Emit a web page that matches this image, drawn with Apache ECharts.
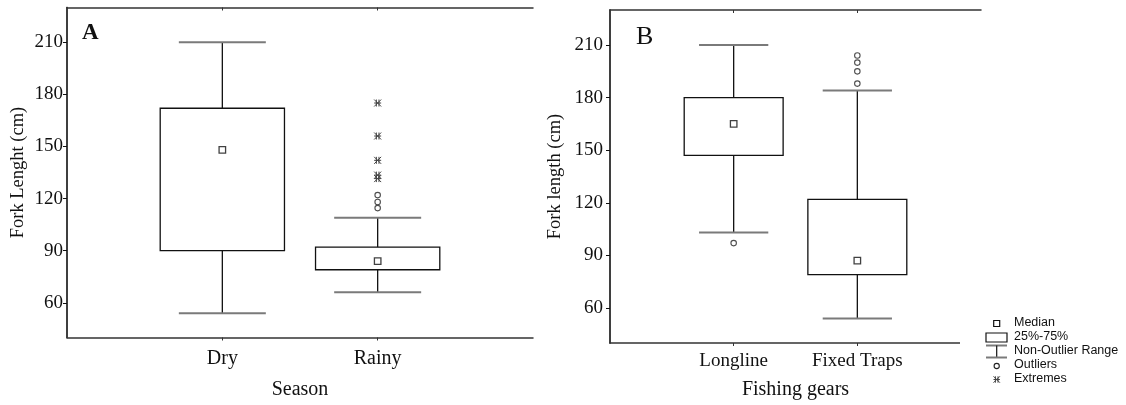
<!DOCTYPE html>
<html>
<head>
<meta charset="utf-8">
<script src="https://cdn.jsdelivr.net/npm/echarts@6/dist/echarts.min.js"></script>
<style>html,body{margin:0;padding:0;background:#fff;}#c{width:1126px;height:405px;}</style>
</head>
<body>
<div id="c"></div>
<script>
// ---- data ----
const seasonCats = ['Dry', 'Rainy'];
// [min whisker, q1, median, q3, max whisker]
const seasonBox = [[54, 90, 148, 172, 210], [66, 79, 84, 92, 109]];
const seasonOutliers = [[], [122, 118, 114.5]];
const seasonExtremes = [[], [175, 156, 142, 133.5, 131.5]];

const gearCats = ['Longline', 'Fixed Traps'];
const gearBox = [[103, 147, 165, 180, 210], [54, 79, 87, 122, 184]];
const gearOutliers = [[97], [188, 195, 200, 204]];
const gearExtremes = [[], []];

const yTicks = [60, 90, 120, 150, 180, 210];
const yMin = 40, yMax = 230;

// ---- helpers ----
const serif = 'Liberation Serif';
const frame = '#333';
const capColor = '#7a7a7a';

function boxData(box) {
  return box.map((b, i) => [i + 1, b[1], b[3], b[0], b[4]]);
}
function pts(list) {
  const out = [];
  list.forEach((arr, i) => arr.forEach(v => out.push([i + 1, v])));
  return out;
}
function boxRender(params, api) {
  const x = api.value(0);
  const q1 = api.value(1), q3 = api.value(2), lo = api.value(3), hi = api.value(4);
  const pHi = api.coord([x, hi]), pQ3 = api.coord([x, q3]);
  const pQ1 = api.coord([x, q1]), pLo = api.coord([x, lo]);
  const bw = api.size([0.8, 0])[0];
  const cw = api.size([0.56, 0])[0];
  const cx = pHi[0];
  const ls = { stroke: '#111', lineWidth: 1.3 };
  const cs = { stroke: capColor, lineWidth: 2 };
  return {
    type: 'group',
    children: [
      { type: 'line', shape: { x1: cx, y1: pHi[1], x2: cx, y2: pQ3[1] }, style: ls },
      { type: 'line', shape: { x1: cx, y1: pQ1[1], x2: cx, y2: pLo[1] }, style: ls },
      { type: 'line', shape: { x1: cx - cw / 2, y1: pHi[1], x2: cx + cw / 2, y2: pHi[1] }, style: cs },
      { type: 'line', shape: { x1: cx - cw / 2, y1: pLo[1], x2: cx + cw / 2, y2: pLo[1] }, style: cs },
      { type: 'rect', shape: { x: cx - bw / 2, y: pQ3[1], width: bw, height: pQ1[1] - pQ3[1] },
        style: { fill: '#fff', stroke: '#111', lineWidth: 1.3 } }
    ]
  };
}
function asteriskShapes(cx, cy, r) {
  const st = { stroke: '#444', lineWidth: 1 };
  return [
    { type: 'line', shape: { x1: cx - r, y1: cy, x2: cx + r, y2: cy }, style: st },
    { type: 'line', shape: { x1: cx - r, y1: cy - r, x2: cx + r, y2: cy + r }, style: st },
    { type: 'line', shape: { x1: cx - r, y1: cy + r, x2: cx + r, y2: cy - r }, style: st },
    { type: 'line', shape: { x1: cx - 1.3, y1: cy - r, x2: cx - 1.3, y2: cy + r }, style: st },
    { type: 'line', shape: { x1: cx + 1.3, y1: cy - r, x2: cx + 1.3, y2: cy + r }, style: st }
  ];
}
function extremeRender(params, api) {
  const p = api.coord([api.value(0), api.value(1)]);
  return { type: 'group', children: asteriskShapes(p[0], p[1], 3.5) };
}

function xAxes(cats, gi, labelSize, labelMargin, name, nameGap) {
  return [
    {
      type: 'value', gridIndex: gi, min: 0, max: 3, position: 'bottom',
      name: name, nameLocation: 'middle', nameGap: nameGap,
      nameTextStyle: { fontFamily: serif, fontSize: 20, color: '#111' },
      axisLine: { lineStyle: { color: frame, width: 1.5 } },
      axisTick: { inside: false, length: 3, lineStyle: { color: frame }, customValues: [1, 2] },
      axisLabel: { fontFamily: serif, fontSize: labelSize, color: '#111', margin: labelMargin,
        customValues: [1, 2], formatter: v => cats[Math.round(v) - 1] || '' },
      splitLine: { show: false }
    },
    {
      type: 'value', gridIndex: gi, min: 0, max: 3, position: 'top',
      axisLine: { lineStyle: { color: frame, width: 1.5 } },
      axisTick: { inside: true, length: 3, lineStyle: { color: frame }, customValues: [1, 2] },
      axisLabel: { show: false },
      splitLine: { show: false }
    }
  ];
}
function yAxes(gi, name, nameGap, labelMargin) {
  return [
    {
      type: 'value', gridIndex: gi, min: yMin, max: yMax, position: 'left',
      name: name, nameLocation: 'middle', nameGap: nameGap,
      nameTextStyle: { fontFamily: serif, fontSize: 18.5, color: '#111' },
      axisLine: { show: true, lineStyle: { color: frame, width: 1.5 } },
      axisTick: { show: true, inside: false, length: 3, lineStyle: { color: frame }, customValues: yTicks },
      axisLabel: { fontFamily: serif, fontSize: 19, color: '#111', margin: labelMargin, customValues: yTicks },
      splitLine: { show: false }
    },
    {
      type: 'value', gridIndex: gi, min: yMin, max: yMax, position: 'right',
      axisLine: { show: true, lineStyle: { color: frame, width: 1.5 } },
      axisTick: { show: true, inside: true, length: 4, lineStyle: { color: '#111' }, customValues: yTicks },
      axisLabel: { show: false },
      splitLine: { show: false }
    }
  ];
}
function panelSeries(box, outl, extr, xi, yi) {
  const b = boxData(box);
  return [
    { type: 'custom', xAxisIndex: xi, yAxisIndex: yi, renderItem: boxRender, data: b,
      encode: { x: 0, y: [1, 2, 3, 4] }, z: 2, silent: true },
    { type: 'scatter', xAxisIndex: xi, yAxisIndex: yi, data: box.map((v, i) => [i + 1, v[2]]),
      symbol: 'rect', symbolSize: 6.5, itemStyle: { color: '#fff', borderColor: '#111', borderWidth: 1.3 }, z: 5, silent: true },
    { type: 'scatter', xAxisIndex: xi, yAxisIndex: yi, data: pts(outl),
      symbol: 'circle', symbolSize: 5.5, itemStyle: { color: '#fff', borderColor: '#222', borderWidth: 1.1 }, z: 5, silent: true },
    { type: 'custom', xAxisIndex: xi, yAxisIndex: yi, renderItem: extremeRender, data: pts(extr),
      encode: { x: 0, y: 1 }, z: 5, silent: true }
  ];
}

// legend graphics
const lx = 996.7;
const legendText = (t, y) => ({ type: 'text', left: 1014, top: y - 7.5,
  style: { text: t, font: '12.5px "Liberation Sans"', fill: '#111' }, z: 101 });
const legendGraphics = [
  { type: 'rect', shape: { x: 960, y: 313, width: 166, height: 92 }, style: { fill: '#fff' }, z: 100 },
  { type: 'rect', shape: { x: lx - 3, y: 320.5, width: 6, height: 6 }, style: { fill: '#fff', stroke: '#111', lineWidth: 1.2 }, z: 101 },
  { type: 'rect', shape: { x: 986, y: 333, width: 21, height: 9 }, style: { fill: '#fff', stroke: '#111', lineWidth: 1.2 }, z: 101 },
  { type: 'line', shape: { x1: 986, y1: 345.5, x2: 1007, y2: 345.5 }, style: { stroke: capColor, lineWidth: 2 }, z: 101 },
  { type: 'line', shape: { x1: lx, y1: 345.5, x2: lx, y2: 357.5 }, style: { stroke: '#111', lineWidth: 1.2 }, z: 101 },
  { type: 'line', shape: { x1: 986, y1: 357.5, x2: 1007, y2: 357.5 }, style: { stroke: capColor, lineWidth: 2 }, z: 101 },
  { type: 'circle', shape: { cx: lx, cy: 366, r: 2.6 }, style: { fill: '#fff', stroke: '#222', lineWidth: 1.1 }, z: 101 },
  { type: 'group', z: 101, children: asteriskShapes(lx, 379.5, 3.2).map(s => Object.assign(s, { z: 101 })) },
  legendText('Median', 323.5),
  legendText('25%-75%', 337.5),
  legendText('Non-Outlier Range', 351.5),
  legendText('Outliers', 366),
  legendText('Extremes', 380),
  { type: 'text', left: 82, top: 22, style: { text: 'A', font: 'bold 23px "Liberation Serif"', fill: '#111' }, z: 50 },
  { type: 'text', left: 636, top: 24, style: { text: 'B', font: '26px "Liberation Serif"', fill: '#111' }, z: 50 }
];

const chart = echarts.init(document.getElementById('c'), null, { renderer: 'canvas' });
chart.setOption({
  animation: false,
  backgroundColor: '#fff',
  grid: [
    { left: 67, top: 7.5, width: 466, height: 330 },
    { left: 610, top: 10, width: 371, height: 335 }
  ],
  xAxis: [
    ...xAxes(seasonCats, 0, 20, 11, 'Season', 42),
    ...xAxes(gearCats, 1, 19, 9, 'Fishing gears', 37)
  ],
  yAxis: [
    ...yAxes(0, 'Fork Lenght (cm)', 39, 4),
    ...yAxes(1, 'Fork length (cm)', 45, 7)
  ],
  series: [
    ...panelSeries(seasonBox, seasonOutliers, seasonExtremes, 0, 0),
    ...panelSeries(gearBox, gearOutliers, gearExtremes, 2, 2)
  ],
  graphic: legendGraphics
});
</script>
</body>
</html>
